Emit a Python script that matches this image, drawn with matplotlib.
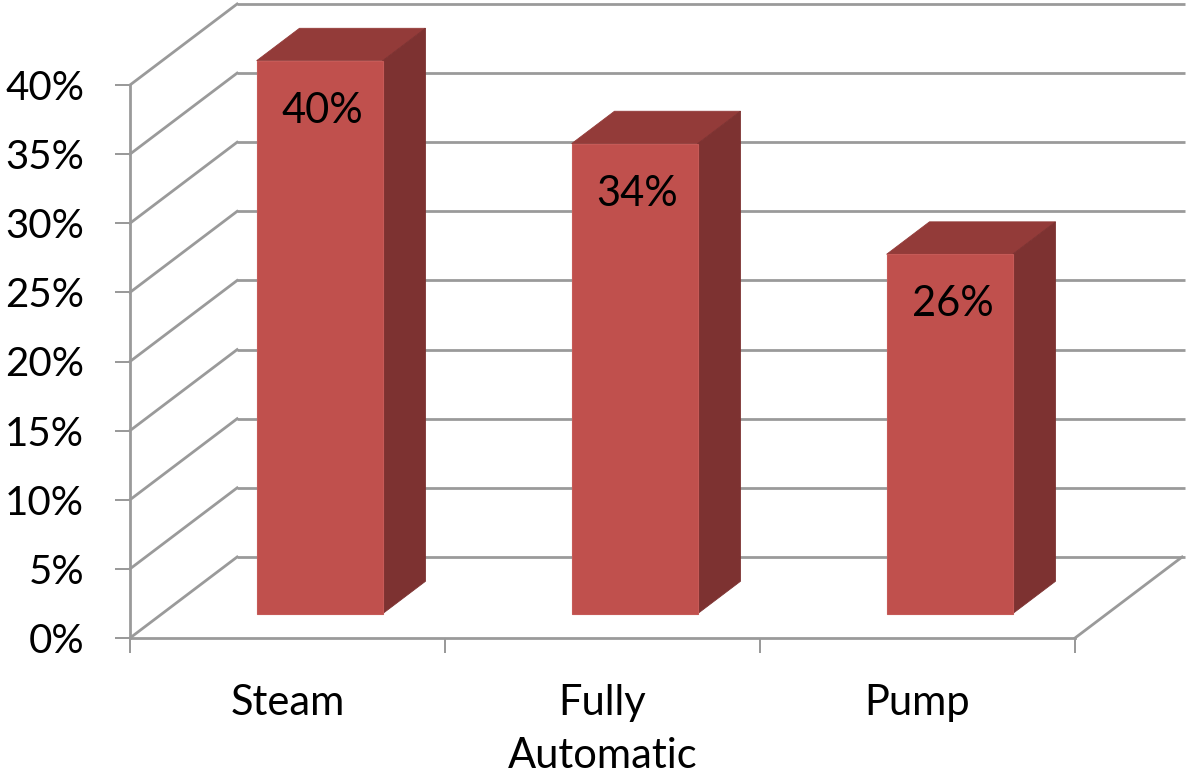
import matplotlib.pyplot as plt
from matplotlib.patches import Polygon
import numpy as np

plt.rcParams['font.family'] = ['Lato', 'DejaVu Sans']

categories = ['Steam', 'Fully\nAutomatic', 'Pump']
shares = [0.40, 0.34, 0.26]
value_ticks = [0.0, 0.05, 0.10, 0.15, 0.20, 0.25, 0.30, 0.35, 0.40]
value_labels = ['0%', '5%', '10%', '15%', '20%', '25%', '30%', '35%', '40%']

FRONT = '#c0504d'
TOP = '#933b39'
SIDE = '#7d3231'
GRID = '#9a9a9a'

# oblique depth: full depth shifts by DX categories and DY value units
DX = 0.34
DY = 0.0586
BAR_W = 0.4
D0, D1 = 0.3, 0.7

fig = plt.figure(figsize=(11.86, 7.78), dpi=100)
ax = fig.add_axes([130 / 1186, 140 / 778, 945 / 1186, 553 / 778])
ax.set_xlim(0, len(categories))
ax.set_ylim(0, 0.4)
for s in ax.spines.values():
    s.set_visible(False)
ax.patch.set_visible(False)

n = len(categories)
lw = 2.0

# walls: back gridlines and left-wall diagonals
for v in value_ticks:
    ax.plot([DX, n + DX * 1.03], [v + DY, v + DY], color=GRID, lw=lw,
            clip_on=False, zorder=1, solid_capstyle='butt')
    ax.plot([0, DX], [v, v + DY], color=GRID, lw=lw, clip_on=False, zorder=1)

# floor front edge, right diagonal and front value axis
ax.plot([0, n], [0, 0], color=GRID, lw=lw, clip_on=False, zorder=1)
ax.plot([n, n + DX], [0, DY], color=GRID, lw=lw, clip_on=False, zorder=1)
ax.plot([0, 0], [0, 0.4], color=GRID, lw=lw, clip_on=False, zorder=1)

# bars as boxes
for i, v in enumerate(shares):
    x0 = i + 0.5 - BAR_W / 2
    x1 = i + 0.5 + BAR_W / 2
    fx0, fx1 = x0 + D0 * DX, x1 + D0 * DX
    fy = D0 * DY
    bx0, bx1 = x0 + D1 * DX, x1 + D1 * DX
    by = D1 * DY
    top = [(fx0, v + fy), (fx1, v + fy), (bx1, v + by), (bx0, v + by)]
    side = [(fx1, fy), (bx1, by), (bx1, v + by), (fx1, v + fy)]
    ax.add_patch(Polygon(top, closed=True, facecolor=TOP, edgecolor=TOP,
                         lw=0.6, clip_on=False, zorder=3))
    ax.add_patch(Polygon(side, closed=True, facecolor=SIDE, edgecolor=SIDE,
                         lw=0.6, clip_on=False, zorder=3))
    ax.bar(fx0, v, width=BAR_W, bottom=fy, align='edge', color=FRONT,
           edgecolor='#c65a57', lw=0.8, clip_on=False, zorder=4)
    ax.annotate(f'{v:.0%}', (fx0 + BAR_W / 2, v + fy), xytext=(2, -36),
                textcoords='offset points', ha='center', va='center',
                fontsize=30, color='black', zorder=5, annotation_clip=False)

# value axis
ax.set_yticks(value_ticks)
ax.set_yticklabels(value_labels)
ax.tick_params(axis='y', length=11, width=1.44, color=GRID, pad=22,
               labelsize=29)

# category axis: dividers as major ticks, names as minor labels
ax.set_xticks(np.arange(n + 1))
ax.set_xticklabels([])
ax.tick_params(axis='x', which='major', length=11, width=1.44, color=GRID,
               direction='out')
ax.set_xticks(np.arange(n) + 0.5, minor=True)
ax.set_xticklabels(categories, minor=True, fontsize=30, linespacing=1.5)
ax.tick_params(axis='x', which='minor', length=0, pad=33)

fig.savefig('out.png', dpi=100)
